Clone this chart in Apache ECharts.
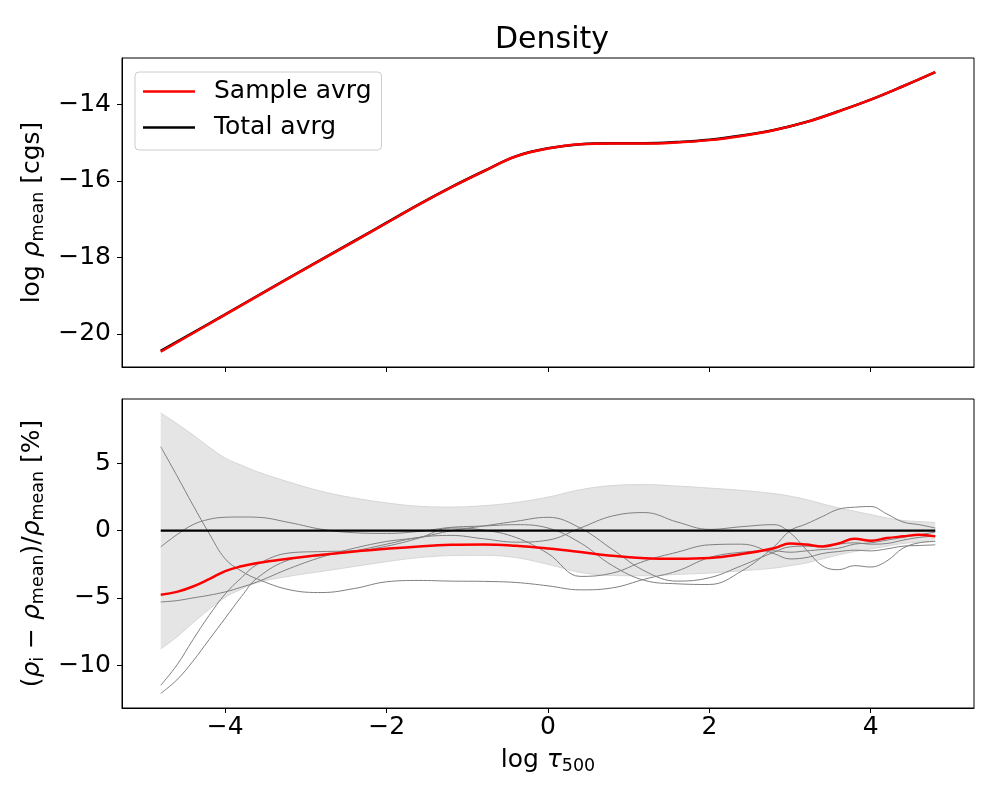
<!DOCTYPE html>
<html>
<head>
<meta charset="utf-8">
<title>Density</title>
<script src="https://cdn.jsdelivr.net/npm/echarts@6/dist/echarts.min.js"></script>
<style>
    html, body { margin: 0; padding: 0; background: #fff; }
    #main { width: 1000px; height: 800px; }
</style>
</head>
<body>
<div id="main"></div>
<script>
    // top panel: log of mean density
    var tauTop = [-4.8, -4.0, -3.2, -2.4, -2.0, -1.6, -1.2, -0.8, -0.4, 0, 0.4, 0.8, 1.2, 1.6, 2.0, 2.4, 2.8, 3.2, 3.6, 4.0, 4.4, 4.8];
    var sampleTop = [-20.47, -19.50, -18.53, -17.58, -17.10, -16.62, -16.17, -15.75, -15.36, -15.15, -15.04, -15.02, -15.02, -14.99, -14.93, -14.82, -14.67, -14.46, -14.18, -13.87, -13.52, -13.15];
    var totalTop = [-20.45, -19.49, -18.52, -17.57, -17.09, -16.61, -16.16, -15.745, -15.355, -15.145, -15.035, -15.01, -15.01, -14.98, -14.92, -14.81, -14.665, -14.455, -14.175, -13.87, -13.52, -13.15];

    // bottom panel: relative difference in %
    var tau = [-4.8, -4.6, -4.4, -4.2, -4.0, -3.8, -3.6, -3.2, -2.8, -2.4, -2.0, -1.6, -1.2, -0.8, -0.4, 0, 0.4, 0.8, 1.2, 1.6, 2.0, 2.4, 2.8, 3.0, 3.2, 3.4, 3.6, 3.8, 4.0, 4.2, 4.4, 4.6, 4.8];
    var bandUp = [8.76, 7.97, 7.12, 6.22, 5.4, 4.87, 4.38, 3.6, 2.92, 2.43, 2.07, 1.82, 1.76, 1.86, 2.1, 2.5, 3.05, 3.36, 3.43, 3.32, 3.17, 3.0, 2.76, 2.57, 2.32, 2.0, 1.7, 1.45, 1.2, 0.95, 0.76, 0.68, 0.62];
    var bandLow = [-8.79, -7.9, -6.85, -5.85, -4.95, -4.35, -3.85, -3.38, -3.02, -2.66, -2.3, -2.0, -1.85, -1.83, -2.0, -2.5, -3.1, -3.33, -3.35, -3.25, -3.15, -2.98, -2.78, -2.6, -2.4, -2.1, -1.8, -1.55, -1.35, -1.15, -0.95, -0.85, -0.8];
    var s1 = [6.25, 4.1, 1.9, -0.2, -2.1, -3.0, -3.6, -4.4, -4.6, -4.3, -3.8, -3.7, -3.75, -3.77, -3.85, -4.1, -4.4, -4.25, -3.6, -3.0, -2.0, -1.6, -1.5, -1.6, -1.5, -1.4, -1.3, -1.0, -0.9, -0.7, -0.5, -0.3, -0.1];
    var s2 = [-1.2, -0.3, 0.45, 0.85, 1.0, 1.02, 1.0, 0.6, 0.1, -0.15, -0.2, -0.05, 0.25, 0.35, 0.45, 0.2, -0.9, -2.6, -3.7, -3.95, -4.0, -3.0, -1.2, 0.0, 0.5, 1.05, 1.6, 1.75, 1.8, 1.25, 0.65, 0.45, 0.2];
    var s3 = [-5.3, -5.2, -5.0, -4.8, -4.55, -4.2, -3.8, -2.8, -1.95, -1.3, -0.8, -0.5, 0.0, 0.35, 0.7, 1.0, 0.2, -1.4, -3.0, -3.75, -3.5, -2.6, -1.6, -1.2, -1.15, -1.2, -1.0, -0.9, -1.0, -0.95, -0.7, -0.5, -0.4];
    var s4 = [-11.5, -10.0, -8.1, -6.3, -4.7, -3.5, -2.5, -1.65, -1.55, -1.5, -1.15, -0.55, 0.2, 0.05, -0.5, -1.7, -3.4, -3.15, -2.25, -1.6, -1.05, -1.0, -1.7, -2.1, -2.0, -1.7, -1.55, -1.45, -1.5, -1.35, -1.15, -1.1, -1.05];
    var s5 = [-12.1, -11.1, -9.7, -8.1, -6.5, -4.9, -3.5, -2.15, -1.85, -1.5, -1.0, -0.5, -0.35, -0.6, -0.85, -0.7, 0.2, 1.1, 1.35, 0.65, 0.1, 0.3, 0.45, -0.15, -1.4, -2.6, -2.9, -2.6, -2.7, -2.25, -1.3, -0.9, -0.8];
    var sampleDiff = [-4.77, -4.55, -4.15, -3.6, -3.0, -2.65, -2.4, -2.07, -1.78, -1.54, -1.34, -1.17, -1.05, -1.02, -1.12, -1.32, -1.58, -1.87, -2.04, -2.08, -2.03, -1.74, -1.3, -0.95, -1.03, -1.17, -0.95, -0.6, -0.74, -0.55, -0.42, -0.3, -0.42];
    var tauEnds = [-4.8, 4.8];
    var totalDiff = [0, 0];

    var xTicks = [-4, -2, 0, 2, 4];
    var yTicksTop = [-20, -18, -16, -14];
    var yTicksBot = [-10, -5, 0, 5];

    function pairs(xs, ys) {
        return xs.map(function (x, i) { return [x, ys[i]]; });
    }
    function fmt(v) {
        return v < 0 ? '\u2212' + Math.abs(v) : '' + v;
    }

    var FONT = 'DejaVu Sans';
    var nameRich = {
        t: { fontSize: 25, fontFamily: FONT, color: '#000', lineHeight: 29 },
        g: { fontSize: 25, fontFamily: FONT, fontStyle: 'italic', color: '#000', lineHeight: 29 },
        s: { fontSize: 17.5, fontFamily: FONT, color: '#000', lineHeight: 17, verticalAlign: 'bottom' }
    };
    var black = { color: '#000', width: 1 };

    function xAx(idx, withLabels) {
        var ax = {
            gridIndex: idx, type: 'value', min: -5.28, max: 5.28,
            axisLine: { show: true, onZero: false, lineStyle: black },
            axisTick: { show: true, length: 5, customValues: xTicks, lineStyle: black },
            axisLabel: { show: withLabels, customValues: xTicks, formatter: fmt, fontSize: 25, fontFamily: FONT, color: '#000', margin: 7 },
            splitLine: { show: false }
        };
        if (withLabels) {
            ax.name = '{t|log }{g|\u03c4}{s|500}';
            ax.nameLocation = 'middle';
            ax.nameGap = 38;
            ax.nameTextStyle = { rich: nameRich };
        }
        return ax;
    }
    function yAx(idx, min, max, ticks, name) {
        return {
            gridIndex: idx, type: 'value', min: min, max: max,
            axisLine: { show: true, onZero: false, lineStyle: black },
            axisTick: { show: true, length: 5, customValues: ticks, lineStyle: black },
            axisLabel: { customValues: ticks, formatter: fmt, fontSize: 25, fontFamily: FONT, color: '#000', margin: 11 },
            splitLine: { show: false },
            name: name, nameLocation: 'middle', nameRotate: 90, nameGap: 70,
            nameTextStyle: { rich: nameRich }
        };
    }
    function line(name, xi, xs, ys, color, width, z) {
        return {
            name: name, type: 'line', xAxisIndex: xi, yAxisIndex: xi,
            data: pairs(xs, ys), symbol: 'none', smooth: 0.4, z: z,
            lineStyle: { color: color, width: width }, itemStyle: { color: color },
            silent: true
        };
    }

    var chart = echarts.init(document.getElementById('main'), null, { renderer: 'canvas' });

    var greySeries = [s1, s2, s3, s4, s5].map(function (s, i) {
        return line('sample ' + (i + 1), 1, tau, s, '#808080', 1, 4);
    });

    var bandUpper = line('band up', 1, tau, bandUp, '#d6d6d6', 1, 1);
    bandUpper.areaStyle = { color: '#e5e5e5', opacity: 1, origin: 'auto' };
    var bandLower = line('band low', 1, tau, bandLow, '#d6d6d6', 1, 1);
    bandLower.areaStyle = { color: '#e5e5e5', opacity: 1, origin: 'auto' };

    var option = {
        animation: false,
        backgroundColor: '#fff',
        title: {
            text: 'Density', left: 547, top: 20, textAlign: 'center',
            textStyle: { fontSize: 30, fontWeight: 'normal', fontFamily: FONT, color: '#000' }
        },
        legend: {
            left: 135, top: 72, orient: 'vertical',
            data: ['Sample avrg', 'Total avrg'],
            icon: 'rect', itemWidth: 52, itemHeight: 2.5, itemGap: 11,
            padding: [7, 10, 10, 8],
            borderColor: '#cccccc', borderWidth: 1, borderRadius: 4,
            backgroundColor: 'rgba(255,255,255,0.8)',
            selectedMode: false,
            textStyle: { fontSize: 25, fontFamily: FONT, color: '#000', lineHeight: 25, padding: [0, 0, 0, 14] }
        },
        grid: [
            { left: 122, width: 852, top: 58, height: 309, show: true, borderColor: '#000', borderWidth: 1, backgroundColor: 'transparent' },
            { left: 122, width: 852, top: 399, height: 309, show: true, borderColor: '#000', borderWidth: 1, backgroundColor: 'transparent' }
        ],
        xAxis: [xAx(0, false), xAx(1, true)],
        yAxis: [
            yAx(0, -20.87, -12.78, yTicksTop, '{t|log }{g|\u03c1}{s|mean}{t| [cgs]}'),
            yAx(1, -13.19, 9.8, yTicksBot, '{t|(}{g|\u03c1}{s|i}{t| \u2212 }{g|\u03c1}{s|mean}{t|)/}{g|\u03c1}{s|mean}{t| [%]}')
        ],
        series: [
            line('Total avrg', 0, tauTop, totalTop, '#000', 2.5, 3),
            line('Sample avrg', 0, tauTop, sampleTop, '#ff0000', 2.5, 4),
            bandUpper,
            bandLower
        ].concat(greySeries).concat([
            line('total diff', 1, tauEnds, totalDiff, '#000', 2.2, 5),
            line('sample diff', 1, tau, sampleDiff, '#ff0000', 2.5, 6)
        ])
    };

    chart.setOption(option);
</script>
</body>
</html>
